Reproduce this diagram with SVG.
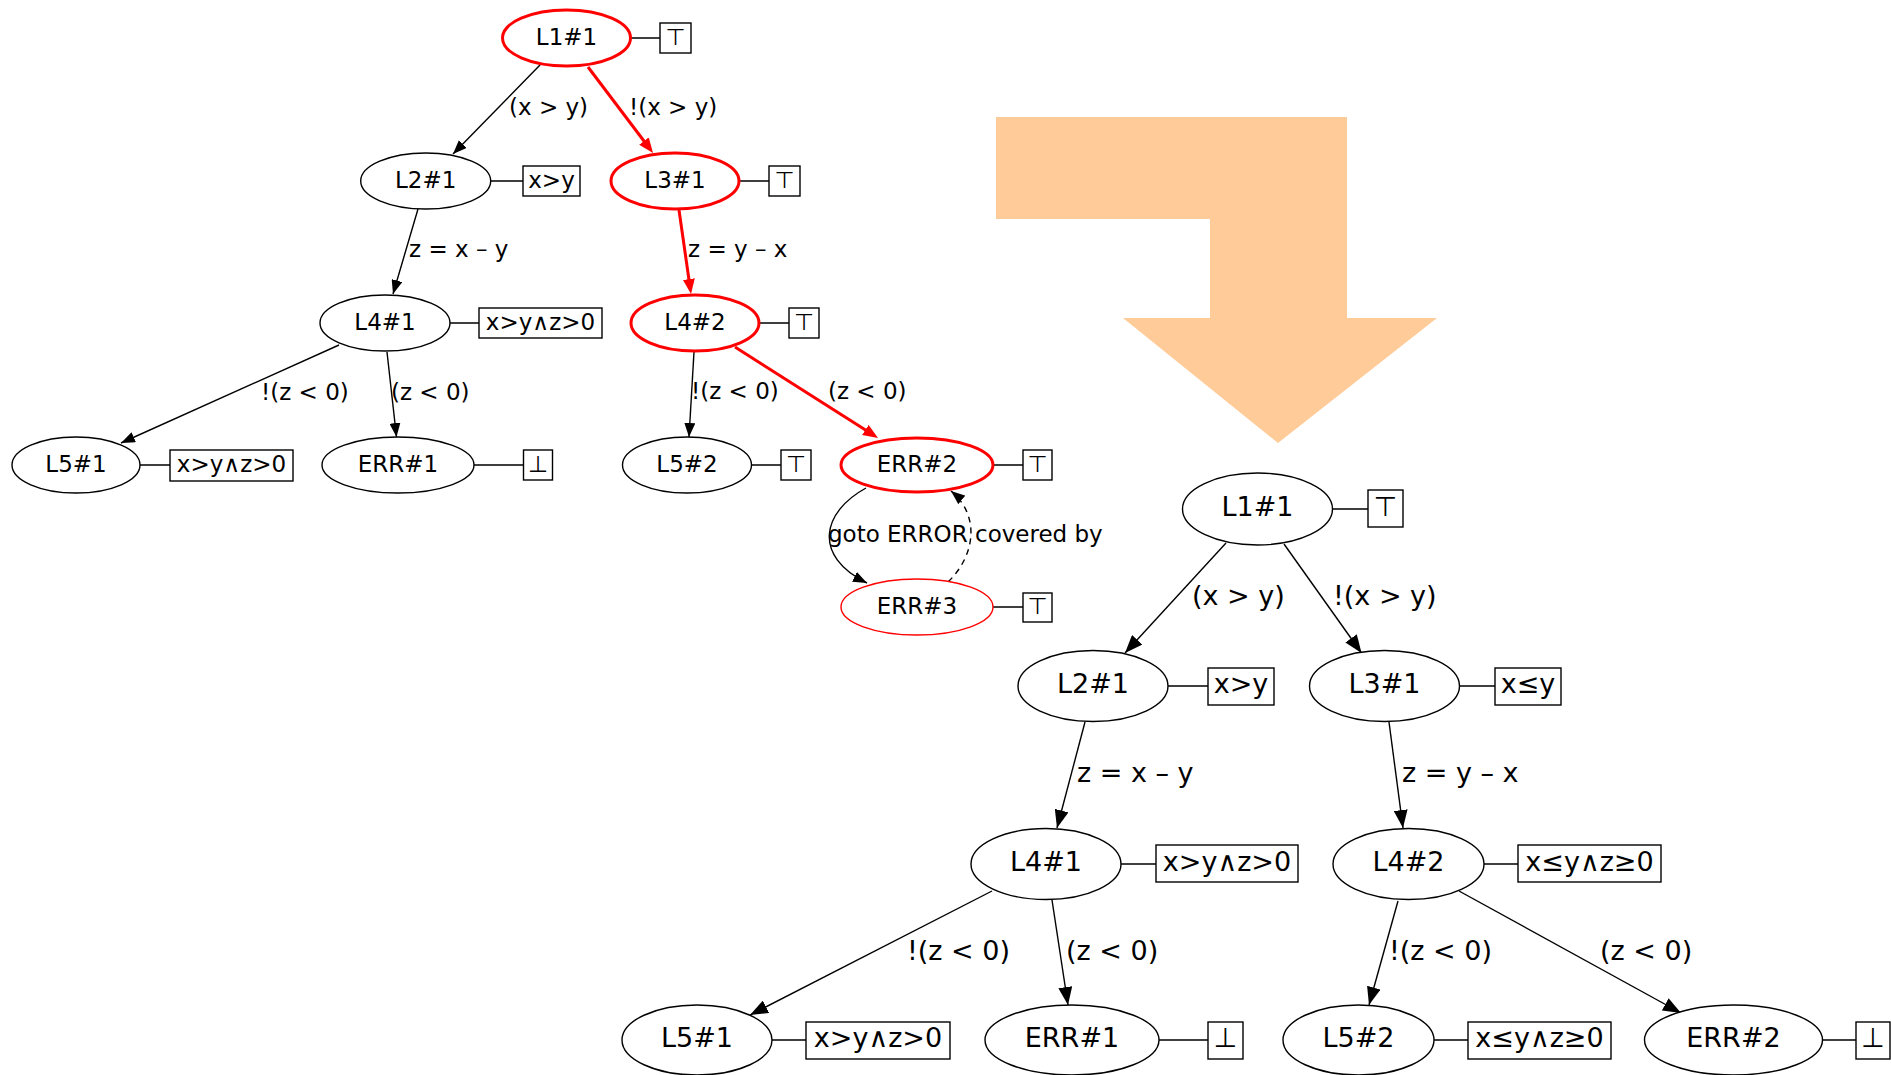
<svg xmlns="http://www.w3.org/2000/svg" width="1891" height="1075" viewBox="0 0 1891 1075">
<style>
text{font-family:"DejaVu Sans","Liberation Sans",sans-serif;fill:#000}
.s{font-size:23px}
.b{font-size:27px}
.m{text-anchor:middle}
.n{fill:#fff;stroke:#000;stroke-width:1.4}
.nr{fill:#fff;stroke:#f00;stroke-width:3}
.nr1{fill:#fff;stroke:#f00;stroke-width:1.4}
.box{fill:#fff;stroke:#000;stroke-width:1.4}
.ln{stroke:#000;stroke-width:1.4;fill:none}
.e{stroke:#000;stroke-width:1.4;fill:none}
.er{stroke:#f00;stroke-width:3;fill:none}
.dash{stroke-dasharray:6,5}
</style>
<defs>
<marker id="ah" markerUnits="userSpaceOnUse" viewBox="0 0 14 11" markerWidth="14" markerHeight="11" refX="14" refY="5.5" orient="auto"><path d="M0,0 L14,5.5 L0,11 z" fill="#000"/></marker>
<marker id="ahr" markerUnits="userSpaceOnUse" viewBox="0 0 15 12" markerWidth="15" markerHeight="12" refX="10" refY="6" orient="auto"><path d="M0,0 L15,6 L0,12 z" fill="#f00"/></marker>
<marker id="ahb" markerUnits="userSpaceOnUse" viewBox="0 0 18 14" markerWidth="18" markerHeight="14" refX="18" refY="7" orient="auto"><path d="M0,0 L18,7 L0,14 z" fill="#000"/></marker>
</defs>
<rect width="1891" height="1075" fill="#fff"/>

<polygon id="transform-arrow" points="996,117 1347,117 1347,318 1437,318 1278,443 1123,318 1210,318 1210,219 996,219" fill="#ffcc99"/>

<g id="connectors">
<!-- left (ARG) graph -->
<path class="e" d="M540,65 L453,154" marker-end="url(#ah)"/>
<path class="er" d="M588,67 L650,149" marker-end="url(#ahr)"/>
<path class="e" d="M418,209 L393,294" marker-end="url(#ah)"/>
<path class="er" d="M679,210 L690.3,289" marker-end="url(#ahr)"/>
<path class="e" d="M339,345 L121,443" marker-end="url(#ah)"/>
<path class="e" d="M387,352 L396.5,437" marker-end="url(#ah)"/>
<path class="e" d="M694,352 L689,437" marker-end="url(#ah)"/>
<path class="er" d="M735,347 L873.8,435.3" marker-end="url(#ahr)"/>
<path class="e" d="M866,488 C822,512 812,556 867,583" marker-end="url(#ah)"/>
<path class="e dash" d="M948,582 C976,555 980,515 951,491" marker-end="url(#ah)"/>
<text class="s" x="509" y="115">(x &gt; y)</text>
<text class="s" x="629" y="115">!(x &gt; y)</text>
<text class="s" x="409" y="257">z = x – y</text>
<text class="s" x="688" y="257">z = y – x</text>
<text class="s" x="261" y="400">!(z &lt; 0)</text>
<text class="s" x="391" y="400">(z &lt; 0)</text>
<text class="s" x="691" y="399">!(z &lt; 0)</text>
<text class="s" x="828" y="399">(z &lt; 0)</text>
<text class="s" x="828" y="542">goto ERROR</text>
<text class="s" x="975" y="542">covered by</text>
<!-- node-to-annotation lines, left -->
<path class="ln" d="M631,38 H660 M491,181 H523 M740,181 H769 M450,323 H479 M760,323 H789 M140,465 H170 M474,465 H523 M752,465 H781 M993,465 H1023 M993,607 H1023"/>

<!-- right (abstract) graph -->
<path class="e" d="M1226,543 L1125,653" marker-end="url(#ahb)"/>
<path class="e" d="M1284,544 L1361.5,653" marker-end="url(#ahb)"/>
<path class="e" d="M1085,722 L1057,828" marker-end="url(#ahb)"/>
<path class="e" d="M1389,722 L1403,828" marker-end="url(#ahb)"/>
<path class="e" d="M992,891 L750,1015" marker-end="url(#ahb)"/>
<path class="e" d="M1052,900 L1068,1005" marker-end="url(#ahb)"/>
<path class="e" d="M1398,901 L1369,1005" marker-end="url(#ahb)"/>
<path class="e" d="M1459,891 L1681,1013" marker-end="url(#ahb)"/>
<text class="b" x="1192" y="605">(x &gt; y)</text>
<text class="b" x="1333" y="605">!(x &gt; y)</text>
<text class="b" x="1077" y="782">z = x – y</text>
<text class="b" x="1402" y="782">z = y – x</text>
<text class="b" x="907" y="960">!(z &lt; 0)</text>
<text class="b" x="1066" y="960">(z &lt; 0)</text>
<text class="b" x="1389" y="960">!(z &lt; 0)</text>
<text class="b" x="1600" y="960">(z &lt; 0)</text>
<path class="ln" d="M1332,509 H1368 M1168,686 H1208 M1459,686 H1495 M1121,864 H1156 M1484,864 H1518 M772,1040 H806 M1159,1040 H1208 M1434,1040 H1468 M1822,1040 H1856"/>
</g>

<!-- left graph nodes -->
<g id="a-L1-1"><ellipse class="nr" cx="566.5" cy="38" rx="64" ry="28"/><text class="s m" x="566.5" y="45">L1#1</text><rect class="box" x="660" y="23" width="31" height="30"/><text class="s m" x="675.5" y="45">⊤</text></g>
<g id="a-L2-1"><ellipse class="n" cx="425.7" cy="181" rx="65" ry="28"/><text class="s m" x="425.7" y="188">L2#1</text><rect class="box" x="523" y="166" width="57" height="30"/><text class="s m" x="551.5" y="188">x&gt;y</text></g>
<g id="a-L3-1"><ellipse class="nr" cx="675" cy="181" rx="64" ry="28"/><text class="s m" x="675" y="188">L3#1</text><rect class="box" x="769" y="166" width="31" height="30"/><text class="s m" x="784.5" y="188">⊤</text></g>
<g id="a-L4-1"><ellipse class="n" cx="385" cy="323" rx="65" ry="28"/><text class="s m" x="385" y="330">L4#1</text><rect class="box" x="479" y="308" width="123" height="30"/><text class="s m" x="540.5" y="330">x&gt;y∧z&gt;0</text></g>
<g id="a-L4-2"><ellipse class="nr" cx="695" cy="323" rx="64" ry="28"/><text class="s m" x="695" y="330">L4#2</text><rect class="box" x="789" y="308" width="30" height="30"/><text class="s m" x="804" y="330">⊤</text></g>
<g id="a-L5-1"><ellipse class="n" cx="76" cy="465" rx="64" ry="28"/><text class="s m" x="76" y="472">L5#1</text><rect class="box" x="170" y="450" width="123" height="31"/><text class="s m" x="231.5" y="472">x&gt;y∧z&gt;0</text></g>
<g id="a-ERR-1"><ellipse class="n" cx="398" cy="465" rx="76" ry="28"/><text class="s m" x="398" y="472">ERR#1</text><rect class="box" x="523.5" y="450" width="29" height="30"/><text class="s m" x="538" y="472">⊥</text></g>
<g id="a-L5-2"><ellipse class="n" cx="687" cy="465" rx="64.5" ry="28"/><text class="s m" x="687" y="472">L5#2</text><rect class="box" x="781" y="450" width="30" height="30"/><text class="s m" x="796" y="472">⊤</text></g>
<g id="a-ERR-2"><ellipse class="nr" cx="917" cy="465" rx="76" ry="27"/><text class="s m" x="917" y="472">ERR#2</text><rect class="box" x="1023" y="450" width="29" height="30"/><text class="s m" x="1037.5" y="472">⊤</text></g>
<g id="a-ERR-3"><ellipse class="nr1" cx="917" cy="607" rx="76" ry="28"/><text class="s m" x="917" y="614">ERR#3</text><rect class="box" x="1023" y="593" width="29" height="29"/><text class="s m" x="1037.5" y="614">⊤</text></g>

<!-- right graph nodes -->
<g id="b-L1-1"><ellipse class="n" cx="1257.5" cy="509" rx="75" ry="36"/><text class="b m" x="1257.5" y="516">L1#1</text><rect class="box" x="1368" y="490" width="35" height="37"/><text class="b m" x="1385.5" y="516">⊤</text></g>
<g id="b-L2-1"><ellipse class="n" cx="1093" cy="686" rx="75" ry="35.5"/><text class="b m" x="1093" y="693">L2#1</text><rect class="box" x="1208" y="668" width="66" height="37"/><text class="b m" x="1241" y="693">x&gt;y</text></g>
<g id="b-L3-1"><ellipse class="n" cx="1384.5" cy="686" rx="75" ry="35.5"/><text class="b m" x="1384.5" y="693">L3#1</text><rect class="box" x="1495" y="668" width="66" height="37"/><text class="b m" x="1528" y="693">x≤y</text></g>
<g id="b-L4-1"><ellipse class="n" cx="1046" cy="864" rx="75" ry="35.5"/><text class="b m" x="1046" y="871">L4#1</text><rect class="box" x="1156" y="845" width="142" height="37"/><text class="b m" x="1227" y="871">x&gt;y∧z&gt;0</text></g>
<g id="b-L4-2"><ellipse class="n" cx="1408.5" cy="864" rx="75.5" ry="35.5"/><text class="b m" x="1408.5" y="871">L4#2</text><rect class="box" x="1518" y="845" width="143" height="37"/><text class="b m" x="1589.5" y="871">x≤y∧z≥0</text></g>
<g id="b-L5-1"><ellipse class="n" cx="697" cy="1040" rx="75" ry="35"/><text class="b m" x="697" y="1047">L5#1</text><rect class="box" x="806" y="1022" width="144" height="37"/><text class="b m" x="878" y="1047">x&gt;y∧z&gt;0</text></g>
<g id="b-ERR-1"><ellipse class="n" cx="1072" cy="1040" rx="87" ry="35"/><text class="b m" x="1072" y="1047">ERR#1</text><rect class="box" x="1208" y="1022" width="35" height="37"/><text class="b m" x="1225.5" y="1047">⊥</text></g>
<g id="b-L5-2"><ellipse class="n" cx="1358.5" cy="1040" rx="75.5" ry="35"/><text class="b m" x="1358.5" y="1047">L5#2</text><rect class="box" x="1468" y="1022" width="143" height="37"/><text class="b m" x="1539.5" y="1047">x≤y∧z≥0</text></g>
<g id="b-ERR-2"><ellipse class="n" cx="1733.5" cy="1040" rx="89" ry="35"/><text class="b m" x="1733.5" y="1047">ERR#2</text><rect class="box" x="1856" y="1022" width="34" height="37"/><text class="b m" x="1873" y="1047">⊥</text></g>
</svg>
